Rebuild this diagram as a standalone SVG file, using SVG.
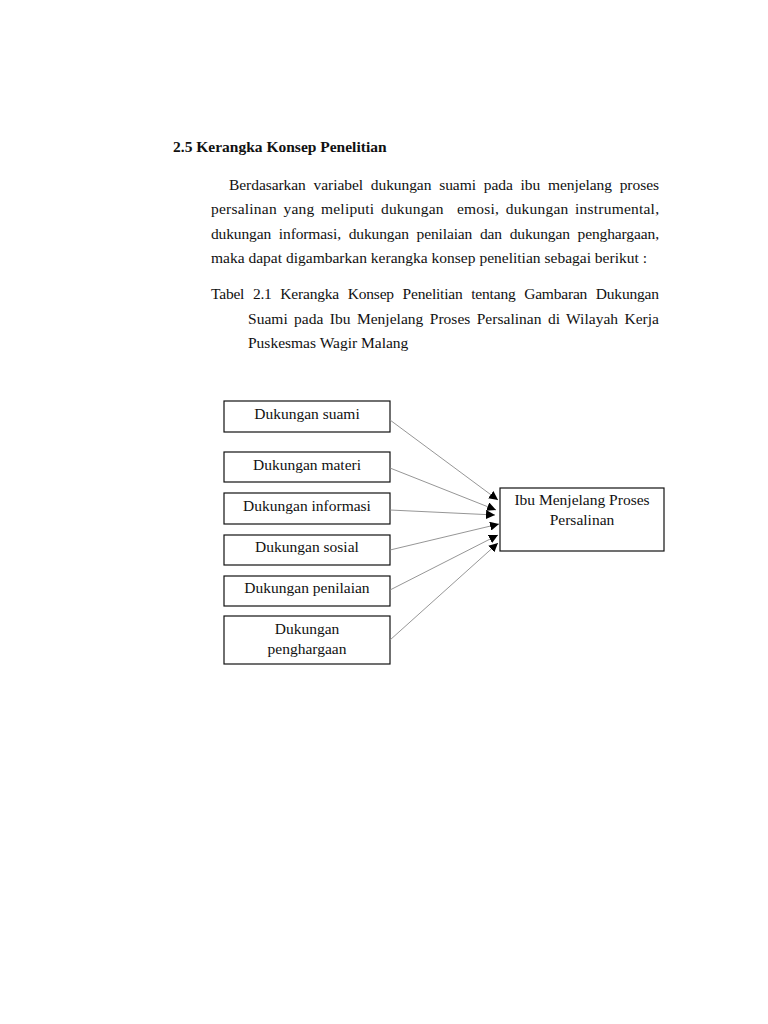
<svg xmlns="http://www.w3.org/2000/svg" width="768" height="1024" viewBox="0 0 768 1024">
<style>
text{font-family:"Liberation Serif","Times New Roman",serif;font-size:15.5px;fill:#111}
.h{font-weight:bold}
.c{text-anchor:middle}
.box{fill:#fff;stroke:#111;stroke-width:1.2}
.con{stroke:#8a8a8a;stroke-width:0.9;fill:none;marker-end:url(#ah)}
</style>
<defs>
<marker id="ah" viewBox="0 0 10 10" refX="10" refY="5" markerWidth="9" markerHeight="9" markerUnits="userSpaceOnUse" orient="auto">
<path d="M0,0 L10,5 L0,10 z" fill="#000"/>
</marker>
</defs>
<rect width="768" height="1024" fill="#fff"/>
<text class="h" x="173" y="152">2.5 Kerangka Konsep Penelitian</text>
<text x="229" y="190" word-spacing="4" textLength="430" lengthAdjust="spacing">Berdasarkan variabel dukungan suami pada ibu menjelang proses</text>
<text x="211" y="214" word-spacing="2.5" textLength="448" lengthAdjust="spacing" xml:space="preserve">persalinan yang meliputi dukungan  emosi, dukungan instrumental,</text>
<text x="211" y="239" word-spacing="4" textLength="448" lengthAdjust="spacing">dukungan informasi, dukungan penilaian dan dukungan penghargaan,</text>
<text x="211" y="263" textLength="436" lengthAdjust="spacing">maka dapat digambarkan kerangka konsep penelitian sebagai berikut :</text>
<text x="211" y="299" word-spacing="5" textLength="448" lengthAdjust="spacing">Tabel 2.1 Kerangka Konsep Penelitian tentang Gambaran Dukungan</text>
<text x="248" y="324" word-spacing="2.5" textLength="411" lengthAdjust="spacing">Suami pada Ibu Menjelang Proses Persalinan di Wilayah Kerja</text>
<text x="248" y="348">Puskesmas Wagir Malang</text>
<g id="n1"><rect class="box" x="224" y="401" width="166" height="31"/><text class="c" x="307" y="419">Dukungan suami</text></g>
<g id="n2"><rect class="box" x="224" y="452" width="166" height="30"/><text class="c" x="307" y="470">Dukungan materi</text></g>
<g id="n3"><rect class="box" x="224" y="493" width="166" height="31"/><text class="c" x="307" y="511">Dukungan informasi</text></g>
<g id="n4"><rect class="box" x="224" y="535" width="166" height="30"/><text class="c" x="307" y="552">Dukungan sosial</text></g>
<g id="n5"><rect class="box" x="224" y="576" width="166" height="30"/><text class="c" x="307" y="593">Dukungan penilaian</text></g>
<g id="n6"><rect class="box" x="224" y="616" width="166" height="48"/><text class="c" x="307" y="634">Dukungan</text><text class="c" x="307" y="654">penghargaan</text></g>
<g id="n7"><rect class="box" x="500" y="488" width="164" height="63"/><text class="c" x="582" y="505">Ibu Menjelang Proses</text><text class="c" x="582" y="525">Persalinan</text></g>
<g id="connectors">
<line class="con" x1="390" y1="420" x2="498" y2="500"/>
<line class="con" x1="390" y1="468" x2="496" y2="510"/>
<line class="con" x1="390" y1="510" x2="495" y2="515"/>
<line class="con" x1="390" y1="550" x2="499" y2="524"/>
<line class="con" x1="390" y1="590" x2="498" y2="535"/>
<line class="con" x1="390" y1="640" x2="498" y2="543"/>
</g>
</svg>
